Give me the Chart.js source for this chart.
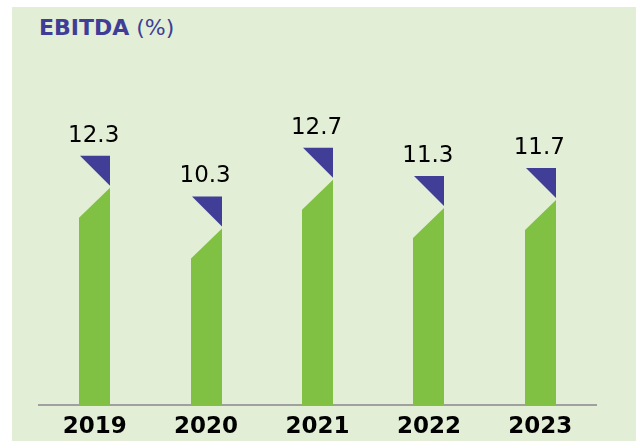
<!DOCTYPE html>
<html>
<head>
<meta charset="utf-8">
<script src="https://cdn.jsdelivr.net/npm/chart.js@4/dist/chart.umd.min.js"></script>
<style>
  html, body { margin: 0; padding: 0; background: #ffffff; }
  body { width: 636px; height: 441px; position: relative; overflow: hidden; }
  #bg { position: absolute; left: 12px; top: 7px; right: 0; bottom: 0; background: #e2eed6; }
  #title { position: absolute; left: 39px; top: 15px; font-family: "DejaVu Sans", Verdana, sans-serif;
           font-size: 22px; color: #403d96; white-space: nowrap; }
  #title b { font-weight: bold; }
  #wrap { position: absolute; left: 0; top: 0; width: 636px; height: 441px; overflow: hidden; }
</style>
</head>
<body>
<div id="bg"></div>
<div id="title"><b>EBITDA</b> (%)</div>
<div id="wrap"><canvas id="c" width="636" height="449"></canvas></div>
<script>
const years = ["2019", "2020", "2021", "2022", "2023"];
const ebitda = [12.3, 10.3, 12.7, 11.3, 11.7];
const valueLabels = ["12.3", "10.3", "12.7", "11.3", "11.7"];

const GREEN = "#80c144";
const BLUE = "#413e97";

const shapePlugin = {
  id: "shapes",
  afterDatasetsDraw(chart) {
    const ctx = chart.ctx;
    const meta = chart.getDatasetMeta(0);
    meta.data.forEach((el, i) => {
      const p = el.getProps(["x", "y", "width", "base"], true);
      const l = Math.round(p.x - p.width / 2);
      const r = Math.round(p.x + p.width / 2);
      const w = r - l;
      const top = p.y;
      ctx.save();
      ctx.fillStyle = BLUE;
      ctx.beginPath();
      ctx.moveTo(l + 1, top);
      ctx.lineTo(r, top);
      ctx.lineTo(r, top + w - 1);
      ctx.closePath();
      ctx.fill();
      const gTop = top + w + 1;
      ctx.fillStyle = GREEN;
      ctx.beginPath();
      ctx.moveTo(l, p.base);
      ctx.lineTo(l, gTop + w - 1);
      ctx.lineTo(r, gTop);
      ctx.lineTo(r, p.base);
      ctx.closePath();
      ctx.fill();
      ctx.fillStyle = "#000000";
      ctx.font = "23px 'DejaVu Sans', Verdana, sans-serif";
      ctx.textAlign = "center";
      ctx.textBaseline = "alphabetic";
      ctx.fillText(valueLabels[i], p.x - 1, top - 14);
      ctx.restore();
    });
  }
};

new Chart(document.getElementById("c"), {
  type: "bar",
  data: {
    labels: years,
    datasets: [{
      data: ebitda,
      backgroundColor: "rgba(0,0,0,0)",
      borderWidth: 0,
      barThickness: 31
    }]
  },
  options: {
    responsive: false,
    animation: false,
    devicePixelRatio: 1,
    layout: { padding: { left: 39, right: 40, top: 101, bottom: 0 } },
    plugins: { legend: { display: false }, tooltip: { enabled: false }, title: { display: false } },
    scales: {
      x: {
        grid: { display: false, drawTicks: false, tickLength: 0 },
        border: { display: true, color: "#a0a0a0", width: 2 },
        ticks: {
          color: "#000000",
          padding: 8,
          font: { family: "'DejaVu Sans', Verdana, sans-serif", size: 23, weight: "bold" }
        }
      },
      y: {
        display: false,
        min: 0,
        max: 15
      }
    }
  },
  plugins: [shapePlugin]
});
</script>
</body>
</html>
